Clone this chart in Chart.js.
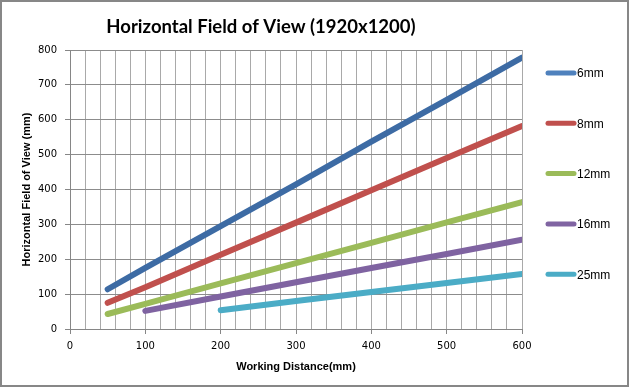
<!DOCTYPE html>
<html>
<head>
<meta charset="utf-8">
<script src="https://cdn.jsdelivr.net/npm/chart.js@4/dist/chart.umd.min.js"></script>
<style>
  html, body { margin: 0; padding: 0; background: #fff; }
  #wrap { width: 629px; height: 387px; position: relative; }
</style>
</head>
<body>
<div id="wrap"><canvas id="c" width="629" height="387"></canvas></div>
<script>
// ---- Data ----
const chartTitle = 'Horizontal Field of View (1920x1200)';
const xAxisTitle = 'Working Distance(mm)';
const yAxisTitle = 'Horizontal Field of View (mm)';
const seriesNames = ['6mm', '8mm', '12mm', '16mm', '25mm'];

const wd6  = [50, 100, 200, 300, 400, 500, 600];
const fov6 = [114, 175, 295, 415, 537, 657, 778];
const wd8  = [50, 100, 200, 300, 400, 500, 600];
const fov8 = [75, 120, 213, 305, 398, 490, 582];
const wd12  = [50, 100, 200, 300, 400, 500, 600];
const fov12 = [43, 72, 131, 189, 247, 306, 364];
const wd16  = [100, 200, 300, 400, 500, 600];
const fov16 = [52, 93, 134, 175, 215, 256];
const wd25  = [200, 300, 400, 500, 600];
const fov25 = [54, 80, 106, 132, 158];

const xMin = 0, xMax = 600, xMajor = 100, xMinor = 20;
const yMin = 0, yMax = 800, yStep = 100;

// ---- Styling ----
const lineColors   = ['#3d6ba4', '#c0504d', '#9bbb59', '#7f63a1', '#4bacc6'];
const legendColors = ['#4f81bd', '#c0504d', '#9bbb59', '#8064a2', '#4bacc6'];

const xs = [wd6, wd8, wd12, wd16, wd25];
const ys = [fov6, fov8, fov12, fov16, fov25];

const datasets = seriesNames.map((name, i) => ({
  label: name,
  data: xs[i].map((x, j) => ({ x: x, y: ys[i][j] })),
  borderColor: lineColors[i],
  backgroundColor: lineColors[i],
  borderWidth: 6,
  borderCapStyle: 'round',
  borderJoinStyle: 'round',
  pointRadius: 0,
  pointHoverRadius: 0,
  tension: 0,
  fill: false
}));

const frameTitleLegend = {
  id: 'frameTitleLegend',
  beforeDraw(chart) {
    const ctx = chart.ctx;
    ctx.save();
    ctx.fillStyle = '#ffffff';
    ctx.fillRect(0, 0, chart.width, chart.height);
    ctx.restore();
  },
  afterDraw(chart) {
    const ctx = chart.ctx;
    ctx.save();
    // outer frame
    ctx.strokeStyle = '#878787';
    ctx.lineWidth = 2;
    ctx.strokeRect(1, 1, chart.width - 2, chart.height - 2);
    // title, centred over the area left of the legend
    ctx.fillStyle = '#000';
    ctx.font = 'bold 18.5px Lato, sans-serif';
    ctx.textAlign = 'center';
    ctx.textBaseline = 'middle';
    ctx.fillText(chartTitle, chart.chartArea.right / 2, 27);
    // legend
    const x0 = chart.chartArea.right + 24;
    const x1 = x0 + 30;
    ctx.font = '12px "Liberation Sans", Arial, sans-serif';
    ctx.textBaseline = 'middle';
    ctx.textAlign = 'left';
    chart.data.datasets.forEach((ds, i) => {
      const y = 73 + i * 50.3;
      ctx.strokeStyle = legendColors[i];
      ctx.lineWidth = 5;
      ctx.lineCap = 'round';
      ctx.beginPath();
      ctx.moveTo(x0 + 2, y);
      ctx.lineTo(x1 - 2, y);
      ctx.stroke();
      ctx.fillStyle = '#000';
      ctx.fillText(ds.label, x1 + 1, y + 1);
    });
    ctx.restore();
  }
};

new Chart(document.getElementById('c'), {
  type: 'line',
  data: { datasets: datasets },
  plugins: [frameTitleLegend],
  options: {
    responsive: false,
    animation: false,
    events: [],
    layout: { padding: { left: 0, right: 107, top: 50, bottom: 0 } },
    plugins: {
      legend: { display: false },
      tooltip: { enabled: false },
      title: { display: false }
    },
    scales: {
      x: {
        type: 'linear',
        min: xMin, max: xMax,
        afterFit(scale) { scale.height = 58; },
        border: { display: true, color: '#868686', width: 1 },
        grid: {
          color: '#a9a9a9',
          lineWidth: 1,
          tickLength: 5,
          tickColor: (c) => (c.tick && c.tick.value % xMajor === 0) ? '#868686' : 'rgba(0,0,0,0)'
        },
        ticks: {
          stepSize: xMinor,
          autoSkip: false,
          maxRotation: 0,
          padding: 6,
          color: '#000',
          font: { family: '"DejaVu Sans"', size: 10 },
          callback: (v) => (v % xMajor === 0) ? String(v) : ''
        },
        title: {
          display: true,
          text: xAxisTitle,
          color: '#000',
          font: { family: '"Liberation Sans"', weight: 'bold', size: 11, lineHeight: 1.2 },
          padding: { top: 0, bottom: 13 }
        }
      },
      y: {
        type: 'linear',
        min: yMin, max: yMax,
        afterFit(scale) { scale.width = 70; },
        border: { display: true, color: '#868686', width: 1 },
        grid: {
          color: '#8c8c8c',
          lineWidth: 1,
          tickLength: 5,
          tickColor: '#868686'
        },
        ticks: {
          stepSize: yStep,
          padding: 8,
          color: '#000',
          font: { family: '"DejaVu Sans"', size: 10 }
        },
        title: {
          display: true,
          text: yAxisTitle,
          color: '#000',
          font: { family: '"Liberation Sans"', weight: 'bold', size: 11, lineHeight: 1.2 },
          padding: { top: 20, bottom: 0 }
        }
      }
    }
  }
});
</script>
</body>
</html>
